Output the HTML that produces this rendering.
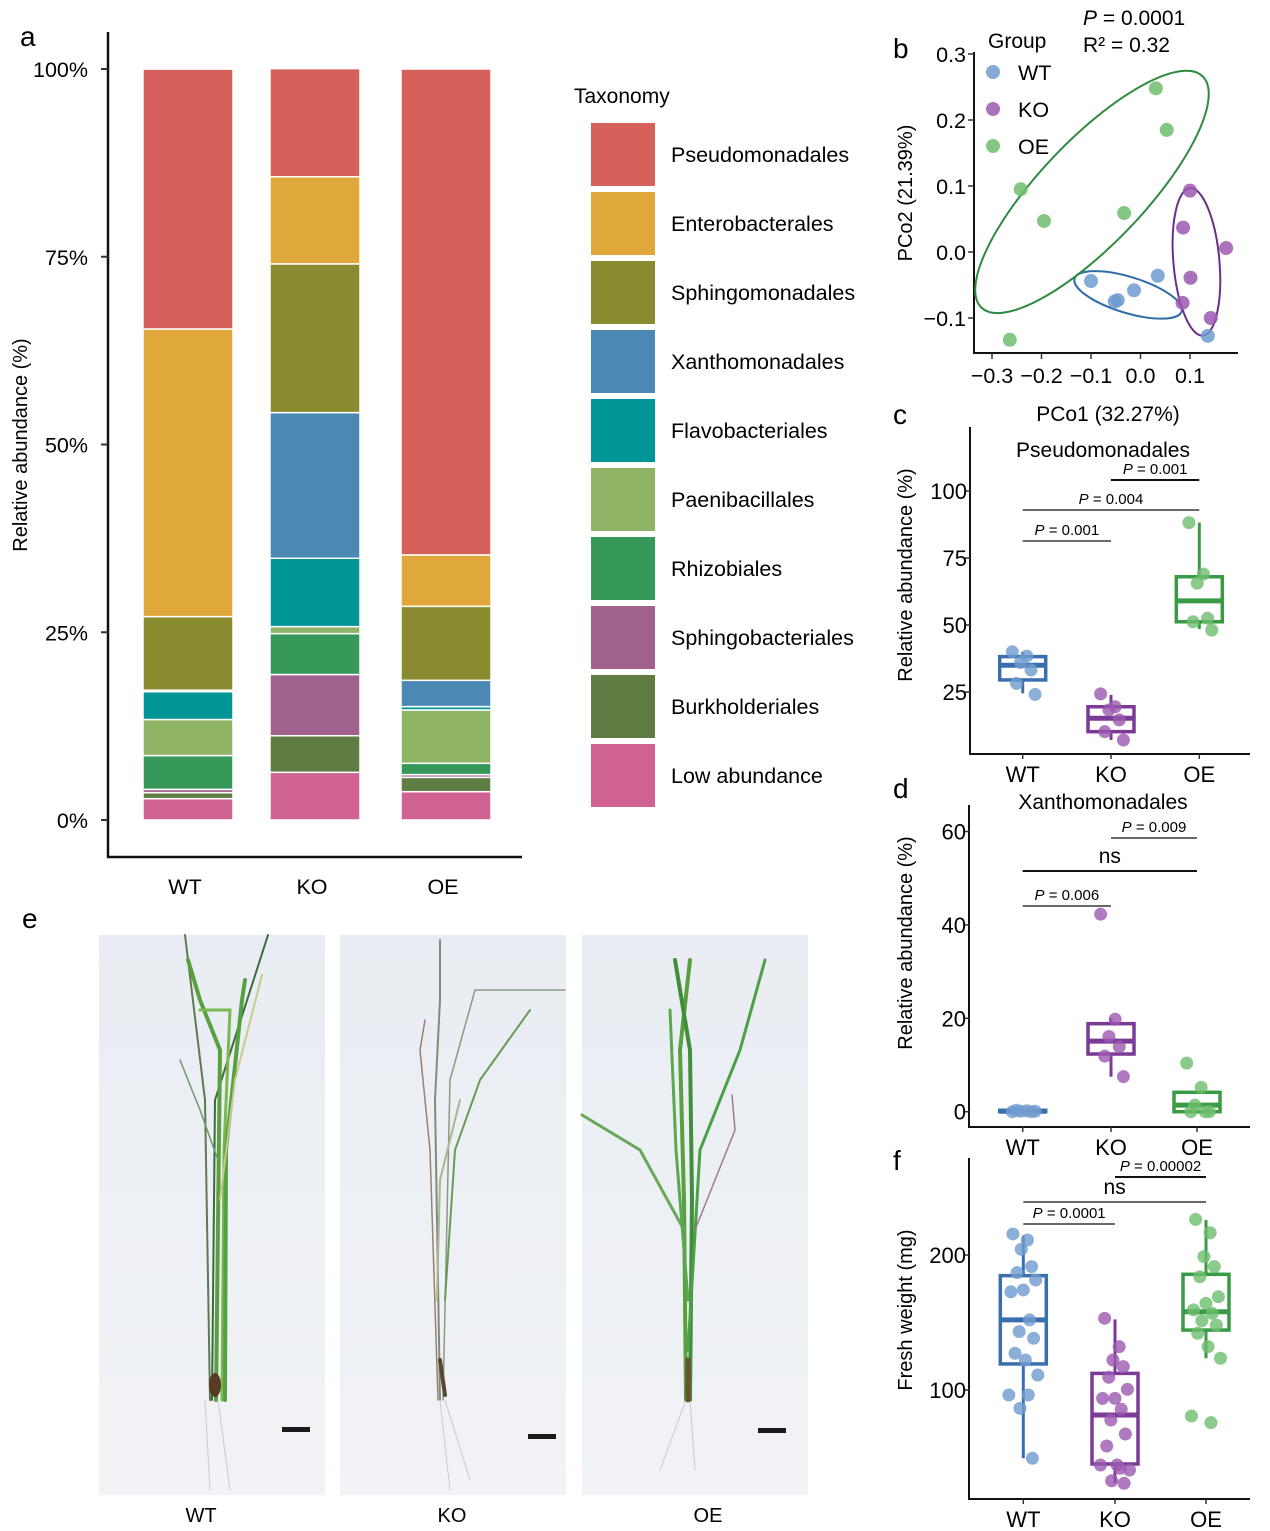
<!DOCTYPE html>
<html><head><meta charset="utf-8">
<style>
html,body{margin:0;padding:0;background:#fff;}
svg{display:block;font-family:"Liberation Sans",Arial,sans-serif;}
</style></head>
<body>
<svg id="fig" width="1270" height="1531" viewBox="0 0 1270 1531" xmlns="http://www.w3.org/2000/svg">
<defs>
<linearGradient id="photoBg" x1="0" y1="0" x2="0" y2="1">
<stop offset="0" stop-color="#e9edf3"/><stop offset="1" stop-color="#f1f3f6"/>
</linearGradient>
</defs>
<g id="panelA"></g>
<g id="panelB"></g>
<g id="panelC"></g>
<g id="panelD"></g>
<g id="panelE">
  <text x="22" y="928" font-size="28">e</text>
  <rect x="99" y="935" width="226" height="560" fill="url(#photoBg)"/>
  <rect x="340" y="935" width="226" height="560" fill="url(#photoBg)"/>
  <rect x="582" y="935" width="226" height="560" fill="url(#photoBg)"/>
  <g fill="none" stroke-linecap="round">
    <path d="M210 1400 L205 1100 L185 935" stroke="#5f7a50" stroke-width="2"/>
    <path d="M212 1400 L215 1100 L268 935" stroke="#3d6a3a" stroke-width="2"/>
    <path d="M216 1400 L220 1050 L200 1000 L188 960" stroke="#5aa040" stroke-width="4"/>
    <path d="M222 1400 L224 1150 L230 1010 L200 1010" stroke="#7ab850" stroke-width="3"/>
    <path d="M225 1400 L226 1150 L242 1000 L245 980" stroke="#55a040" stroke-width="4"/>
    <path d="M220 1200 L235 1080 L262 975" stroke="#c9c98a" stroke-width="2"/>
    <path d="M218 1160 L200 1110 L180 1060" stroke="#6a9a6a" stroke-width="1.5"/>
    <path d="M205 1400 L210 1490" stroke="#c8ccd0" stroke-width="1"/>
    <path d="M218 1400 L230 1490" stroke="#c8ccd0" stroke-width="1"/>
    <ellipse cx="215" cy="1385" rx="6" ry="12" fill="#5a3a25" stroke="none"/>
  </g>
  <g fill="none" stroke-linecap="round">
    <path d="M440 1400 L435 1100 L440 1000 L440 940" stroke="#7f8c7a" stroke-width="2"/>
    <path d="M443 1400 L450 1080 L475 990 L565 990" stroke="#8a9a80" stroke-width="1.5"/>
    <path d="M438 1400 L430 1150 L420 1050 L425 1020" stroke="#9a8070" stroke-width="1.5"/>
    <path d="M445 1300 L455 1150 L480 1080 L530 1010" stroke="#6a9a5a" stroke-width="2"/>
    <path d="M437 1300 L440 1180 L460 1100" stroke="#a8b890" stroke-width="2"/>
    <path d="M440 1400 L450 1490" stroke="#c8ccd0" stroke-width="1"/>
    <path d="M445 1400 L470 1480" stroke="#c8ccd0" stroke-width="1"/>
    <path d="M440 1360 L445 1395" stroke="#5a4535" stroke-width="4"/>
  </g>
  <g fill="none" stroke-linecap="round">
    <path d="M686 1400 L684 1200 L680 1050 L690 960" stroke="#5aa040" stroke-width="4"/>
    <path d="M690 1400 L692 1200 L690 1050 L675 960" stroke="#3f8f3a" stroke-width="4"/>
    <path d="M688 1350 L700 1150 L740 1050 L765 960" stroke="#4ca045" stroke-width="3"/>
    <path d="M684 1230 L640 1150 L582 1115" stroke="#6aa85a" stroke-width="3"/>
    <path d="M688 1300 L676 1150 L670 1010" stroke="#5ca850" stroke-width="3"/>
    <path d="M695 1230 L735 1130 L732 1095" stroke="#a07a90" stroke-width="1.5"/>
    <path d="M686 1400 L660 1470" stroke="#c8ccd0" stroke-width="1"/>
    <path d="M690 1400 L695 1470" stroke="#c8ccd0" stroke-width="1"/>
    <path d="M688 1360 L688 1400" stroke="#6a5030" stroke-width="5"/>
  </g>
  <rect x="282" y="1427" width="28" height="5" fill="#1a1a1a"/>
  <rect x="528" y="1434" width="28" height="5" fill="#1a1a1a"/>
  <rect x="758" y="1428" width="28" height="5" fill="#1a1a1a"/>
  <text x="201" y="1522" font-size="20" text-anchor="middle">WT</text>
  <text x="452" y="1522" font-size="20" text-anchor="middle">KO</text>
  <text x="708" y="1522" font-size="20" text-anchor="middle">OE</text>
</g>
<g id="panelF"></g>
</svg>
<script>
// ---------- Panel a data ----------
const taxa = ["Low abundance","Burkholderiales","Sphingobacteriales","Rhizobiales","Paenibacillales","Flavobacteriales","Xanthomonadales","Sphingomonadales","Enterobacterales","Pseudomonadales"];
const taxaColors = ["#d06292","#5f7d42","#a0628d","#36995a","#8fb466","#009695","#4b88b4","#8a8a2e","#e0a83a","#d6605a"];
const groups = ["WT","KO","OE"];
const abWT = [2.84,0.8,0.44,4.5,4.8,3.7,0.2,9.8,38.3,34.6];
const abKO = [6.35,4.87,8.15,5.45,0.93,9.1,19.4,19.8,11.6,14.4];
const abOE = [3.77,1.91,0.36,1.51,7.1,0.45,3.5,9.85,6.85,64.7];
const aTicks = [0,25,50,75,100];
const legendOrder = ["Pseudomonadales","Enterobacterales","Sphingomonadales","Xanthomonadales","Flavobacteriales","Paenibacillales","Rhizobiales","Sphingobacteriales","Burkholderiales","Low abundance"];

// ---------- Panel b data ----------
const pcoWTx = [-0.1,-0.052,-0.046,-0.013,0.035,0.136];
const pcoWTy = [-0.044,-0.075,-0.073,-0.058,-0.036,-0.127];
const pcoKOx = [0.1,0.086,0.173,0.101,0.085,0.142];
const pcoKOy = [0.093,0.037,0.006,-0.039,-0.077,-0.1];
const pcoOEx = [0.031,0.053,-0.242,-0.195,-0.033,-0.264];
const pcoOEy = [0.248,0.185,0.095,0.047,0.059,-0.133];
const bXTicks = [-0.3,-0.2,-0.1,0.0,0.1];
const bYTicks = [-0.1,0.0,0.1,0.2,0.3];
const ellCx = [-0.025,0.113,-0.098];
const ellCy = [-0.065,-0.015,0.091];

// ---------- Panel c data ----------
const cWT = [40,38.4,36,33.2,28.2,24.1];
const cKO = [24.3,19.5,18.3,14.6,10.2,7.1];
const cOE = [88.2,69,65.6,52.5,51.2,48.1];
const cQ1 = [29.5,10.2,51.2], cMed = [35,15.2,59], cQ3 = [38.2,19.5,68], cLo = [24.5,7.1,48.5], cHi = [40,23.9,88.2];
const cTicks = [25,50,75,100];

// ---------- Panel d data ----------
const dWT = [0,0.2,0.1,0,0.3,0.1];
const dKO = [42.3,19.8,16.1,13.9,11.9,7.5];
const dOE = [10.4,5.2,1.4,0,0,0];
const dQ1 = [0,12.35,0], dMed = [0.1,15.1,1.4], dQ3 = [0.3,18.85,4.15], dLo = [0,7.5,0], dHi = [0.3,20,4.15];
const dTicks = [0,20,40,60];

// ---------- Panel f data ----------
const fWT = [215.6,211.1,204.2,191.4,186.9,181.5,174.1,172.8,151.9,143.2,138.3,127.2,122.2,111.1,96.3,96.3,86.4,49.4];
const fKO = [153.1,132.1,122.2,117.3,109.4,100.5,93.8,93.8,85.7,77.8,67.4,58.5,44.4,40.7,44.4,42,32.8,30.9];
const fOE = [226.4,216.5,198.8,191.4,183.9,169.1,164.2,159.3,156.8,151.3,148.1,142,132.1,123.5,80.7,75.8];
const fQ1 = [119.3,45.2,144.4], fMed = [151.9,81.5,158], fQ3 = [184.7,112.3,185.7], fLo = [49.4,30.9,123.5], fHi = [214.3,152.3,225.9];
const fTicks = [100,200];

const NS="http://www.w3.org/2000/svg";
function mk(parent, tag, attrs, text){
  const e=document.createElementNS(NS,tag);
  for(const k in attrs) e.setAttribute(k,attrs[k]);
  if(text!==undefined) e.textContent=text;
  parent.appendChild(e); return e;
}
const ptCol=["#6f9bd0","#9b59b0","#6dbd6d"];
const boxCol=["#3a6fae","#7b3a96","#3a9a45"];
const jit=[-0.25,0.1,-0.05,0.2,-0.15,0.3,0.0,-0.3,0.15,-0.1,0.25,-0.2,0.05,0.35,-0.35,0.12,-0.08,0.22];

// ---------- Panel a ----------
(function(){
  const g=document.getElementById('panelA');
  const y=v=>820-v*7.51;
  const bx=[143,270,401], bw=90;
  const t=mk(g,'text',{x:20,y:46,'font-size':28});
  
  
  t.textContent='a';
  const ax=mk(g,'path',{d:'M108 32 V857 H522',stroke:'#111','stroke-width':2.5,fill:'none'});
  
  
  aTicks.forEach(v=>{
    const tk=mk(g,'line',{x1:101,x2:108,y1:y(v),y2:y(v),stroke:'#333','stroke-width':2});
    
    
    const lb=mk(g,'text',{x:88,y:y(v)+8,'font-size':21.5,'text-anchor':'end'},v+'%');
    
    
  });
  const yt=mk(g,'text',{x:0,y:0,'font-size':20,'text-anchor':'middle',transform:'translate(27,445) rotate(-90)'},'Relative abundance (%)');
  
  
  const data=[abWT,abKO,abOE];
  data.forEach((arr,gi)=>{
    let cum=0;
    arr.forEach((v,ti)=>{
      const r=mk(g,'rect',{x:bx[gi],y:y(cum+v),width:bw,height:Math.max(0,v*7.51),fill:taxaColors[ti],stroke:'#fff','stroke-width':1.5});
      
      
      cum+=v;
    });
    const lb=mk(g,'text',{x:bx[gi]+bw/2-3,y:894,'font-size':21.5,'text-anchor':'middle'},groups[gi]);
    
    
  });
  const lt=mk(g,'text',{x:574,y:103,'font-size':21},'Taxonomy');
  
  
  legendOrder.forEach((nm,i)=>{
    const ci=taxa.indexOf(nm);
    const sw=mk(g,'rect',{x:591,y:123+i*69,width:64,height:63,fill:taxaColors[ci]});
    
    
    const tx=mk(g,'text',{x:671,y:162+i*69,'font-size':21.5},nm);
    
    
  });
})();

// ---------- Panel b ----------
(function(){
  const g=document.getElementById('panelB');
  const x=v=>1140.5+v*495, y=v=>252-v*660;
  const lab=mk(g,'text',{x:893,y:58,'font-size':28},'b');
  
  
  const ax=mk(g,'path',{d:'M974 52 V353 H1238',stroke:'#111','stroke-width':2,fill:'none'});
  
  
  bYTicks.forEach(v=>{
    const tk=mk(g,'line',{x1:968,x2:974,y1:y(v),y2:y(v),stroke:'#333','stroke-width':1.5});
    
    
    const l=mk(g,'text',{x:966,y:y(v)+8,'font-size':21.5,'text-anchor':'end'},(v<0?'\u2212':'')+Math.abs(v).toFixed(1));
    
    
  });
  bXTicks.forEach(v=>{
    const tk=mk(g,'line',{x1:x(v),x2:x(v),y1:353,y2:359,stroke:'#333','stroke-width':1.5});
    
    
    const l=mk(g,'text',{x:x(v),y:383,'font-size':21.5,'text-anchor':'middle'},(v<0?'\u2212':'')+Math.abs(v).toFixed(1));
    
    
  });
  const xt=mk(g,'text',{x:1108,y:421,'font-size':21,'text-anchor':'middle'},'PCo1 (32.27%)');
  
  
  const yt=mk(g,'text',{x:0,y:0,'font-size':20,'text-anchor':'middle',transform:'translate(912,193) rotate(-90)'},'PCo2 (21.39%)');
  
  
  const ellRx=[56,74,160], ellRy=[18,23,52], ellAng=[17,85,-46.3], ellCol=["#2f6ea8","#6a2f8a","#2e8b40"];
  for(let i=0;i<3;i++){
    const cx=x(ellCx[i]), cy=y(ellCy[i]);
    const el=mk(g,'ellipse',{cx:cx,cy:cy,rx:ellRx[i],ry:ellRy[i],transform:`rotate(${ellAng[i]} ${cx} ${cy})`,fill:'none',stroke:ellCol[i],'stroke-width':2});
    
    
  }
  const xs=[pcoWTx,pcoKOx,pcoOEx], ys=[pcoWTy,pcoKOy,pcoOEy];
  xs.forEach((arr,gi)=>arr.forEach((v,i)=>{
    const c=mk(g,'circle',{cx:x(v),cy:y(ys[gi][i]),r:7,fill:ptCol[gi],'fill-opacity':0.85});
    
    
  }));
  const lg=mk(g,'text',{x:988,y:48,'font-size':21},'Group');
  
  
  groups.forEach((nm,i)=>{
    const c=mk(g,'circle',{cx:993,cy:72+i*37,r:7,fill:ptCol[i],'fill-opacity':0.85});
    
    
    const t=mk(g,'text',{x:1018,y:80+i*37,'font-size':21.5},nm);
    
    
  });
  const p=mk(g,'text',{x:1083,y:25,'font-size':21});
  
  
  p.innerHTML='<tspan font-style="italic">P</tspan> = 0.0001';
  const r=mk(g,'text',{x:1083,y:52,'font-size':21},'R\u00b2 = 0.32');
  
  
})();

// ---------- Box plot helper ----------
function boxPanel(id, opts){
  const g=document.getElementById(id);
  const y=opts.y, cx=opts.cx;
  const lab=mk(g,'text',{x:893,y:opts.labelY,'font-size':28},opts.label);
  
  
  const ax=mk(g,'path',{d:`M${opts.axX} ${opts.axTop} V${opts.axBot} H1250`,stroke:'#111','stroke-width':2,fill:'none'});
  
  
  opts.ticks.forEach(v=>{
    const tk=mk(g,'line',{x1:opts.axX-5,x2:opts.axX,y1:y(v),y2:y(v),stroke:'#333','stroke-width':1.5});
    
    
    const l=mk(g,'text',{x:opts.axX-3,y:y(v)+8,'font-size':22,'text-anchor':'end'},String(v));
    
    
  });
  groups.forEach((nm,i)=>{
    const tk=mk(g,'line',{x1:cx[i],x2:cx[i],y1:opts.axBot,y2:opts.axBot+5,stroke:'#333','stroke-width':1.5});
    
    
    const l=mk(g,'text',{x:cx[i],y:opts.axBot+28,'font-size':22,'text-anchor':'middle'},nm);
    
    
  });
  const yt=mk(g,'text',{x:0,y:0,'font-size':20,'text-anchor':'middle',transform:`translate(${opts.ytX},${opts.ytY}) rotate(-90)`},opts.ytitle);
  
  
  if(opts.title){
    const tt=mk(g,'text',{x:1103,y:opts.titleY,'font-size':21,'text-anchor':'middle'},opts.title);
    
    
  }
  const bw=opts.bw;
  for(let i=0;i<3;i++){
    const col=boxCol[i];
    const wl=mk(g,'line',{x1:cx[i],x2:cx[i],y1:y(opts.hi[i]),y2:y(opts.q3[i]),stroke:col,'stroke-width':3});
    
    
    const wl2=mk(g,'line',{x1:cx[i],x2:cx[i],y1:y(opts.q1[i]),y2:y(opts.lo[i]),stroke:col,'stroke-width':3});
    
    
    const b=mk(g,'rect',{x:cx[i]-bw/2,y:y(opts.q3[i]),width:bw,height:Math.max(1,y(opts.q1[i])-y(opts.q3[i])),fill:'none',stroke:col,'stroke-width':3.5});
    
    
    const m=mk(g,'line',{x1:cx[i]-bw/2,x2:cx[i]+bw/2,y1:y(opts.med[i]),y2:y(opts.med[i]),stroke:col,'stroke-width':5});
    
    
  }
  opts.pts.forEach((arr,gi)=>arr.forEach((v,i)=>{
    const c=mk(g,'circle',{cx:cx[gi]+jit[i%jit.length]*bw*0.9,cy:y(v),r:opts.r,fill:ptCol[gi],'fill-opacity':0.8});
    
    
  }));
  opts.sig.forEach(s=>{
    const l=mk(g,'line',{x1:cx[s.a],x2:cx[s.b],y1:s.y,y2:s.y,stroke:'#111','stroke-width':s.w});
    
    
    const mid=(cx[s.a]+cx[s.b])/2;
    const t=mk(g,'text',{x:mid,y:s.y-(s.ns?8:6),'font-size':s.ns?21:15,'text-anchor':'middle'});
    
    
    if(s.ns) t.textContent='ns'; else t.innerHTML='<tspan font-style="italic">P</tspan> = '+s.p;
  });
}
boxPanel('panelC',{label:'c',labelY:424,y:v=>692-(v-25)*2.68,cx:[1022.7,1111,1199.3],axX:970,axTop:427,axBot:754,
  ticks:cTicks,ytitle:'Relative abundance (%)',ytX:912,ytY:575,title:'Pseudomonadales',titleY:457,bw:46,r:6.5,
  q1:cQ1,med:cMed,q3:cQ3,lo:cLo,hi:cHi,pts:[cWT,cKO,cOE],
  sig:[{a:0,b:1,y:541,w:1.2,p:'0.001'},{a:0,b:2,y:510,w:1.2,p:'0.004'},{a:1,b:2,y:480,w:2,p:'0.001'}]});
boxPanel('panelD',{label:'d',labelY:798,y:v=>1111.7-4.67*v,cx:[1022.7,1111,1197],axX:969,axTop:805,axBot:1127,
  ticks:dTicks,ytitle:'Relative abundance (%)',ytX:912,ytY:943,title:'Xanthomonadales',titleY:809,bw:46,r:6.5,
  q1:dQ1,med:dMed,q3:dQ3,lo:dLo,hi:dHi,pts:[dWT,dKO,dOE],
  sig:[{a:0,b:1,y:906,w:1.2,p:'0.006'},{a:0,b:2,y:871,w:2,ns:true},{a:1,b:2,y:838,w:1.2,p:'0.009'}]});
boxPanel('panelF',{label:'f',labelY:1170,y:v=>1390-(v-100)*1.35,cx:[1023.3,1115,1206],axX:969,axTop:1158,axBot:1499,
  ticks:fTicks,ytitle:'Fresh weight (mg)',ytX:912,ytY:1310,title:null,bw:46,r:6.5,
  q1:fQ1,med:fMed,q3:fQ3,lo:fLo,hi:fHi,pts:[fWT,fKO,fOE],
  sig:[{a:0,b:1,y:1224,w:1.2,p:'0.0001'},{a:0,b:2,y:1202,w:1.2,ns:true},{a:1,b:2,y:1177,w:2,p:'0.00002'}]});
</script>
</body></html>
